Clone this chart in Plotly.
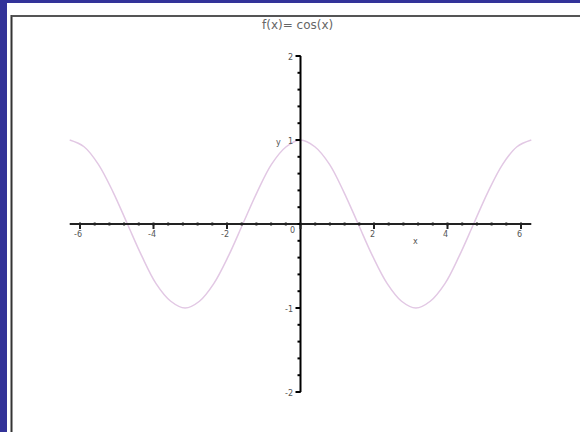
import plotly.graph_objects as go

# --- data ---
curve_x = [-6.28, -5.89, -5.50, -5.10, -4.71, -4.32, -3.93, -3.53, -3.14,
           -2.75, -2.36, -1.96, -1.57, -1.18, -0.79, -0.39, 0.0,
           0.39, 0.79, 1.18, 1.57, 1.96, 2.36, 2.75, 3.14,
           3.53, 3.93, 4.32, 4.71, 5.10, 5.50, 5.89, 6.28]
curve_y = [1.0, 0.92, 0.71, 0.38, 0.0, -0.38, -0.71, -0.92, -1.0,
           -0.92, -0.71, -0.38, 0.0, 0.38, 0.71, 0.92, 1.0,
           0.92, 0.71, 0.38, 0.0, -0.38, -0.71, -0.92, -1.0,
           -0.92, -0.71, -0.38, 0.0, 0.38, 0.71, 0.92, 1.0]
x_major = [-6, -4, -2, 0, 2, 4, 6]
x_labels = ["-6", "-4", "-2", "0", "2", "4", "6"]
y_major = [-2, -1, 1, 2]
y_labels = ["-2", "-1", "1", "2"]
x_minor_step = 0.4
y_minor_step = 0.2
title_text = "f(x)= cos(x)"

W, H = 580, 432
PX_X = 36.75   # pixels per x unit
PX_Y = 84.0    # pixels per y unit
X0_PX = 300.5
Y0_PX = 224.0
xr = [-X0_PX / PX_X, (W - X0_PX) / PX_X]
yr = [-(H - Y0_PX) / PX_Y, Y0_PX / PX_Y]

x_lo, x_hi = curve_x[0], curve_x[-1]
y_lo, y_hi = y_major[0], y_major[-1]

fig = go.Figure()
fig.add_trace(go.Scatter(x=curve_x, y=curve_y, mode="lines",
                         line=dict(color="rgb(226,200,228)", width=1.5, shape="spline"),
                         hoverinfo="skip", showlegend=False))

shapes = []
axcol = "#222222"
# axes lines
shapes.append(dict(type="line", xref="x", yref="y", x0=x_lo, x1=x_hi, y0=0, y1=0,
                   line=dict(color=axcol, width=2)))
shapes.append(dict(type="line", xref="x", yref="y", x0=0, x1=0, y0=y_lo, y1=y_hi,
                   line=dict(color="black", width=2)))
# x ticks
n_minor_x = int(round((x_major[-1] - x_major[0]) / x_minor_step))
for i in range(n_minor_x + 1):
    v = x_major[0] + i * x_minor_step
    shapes.append(dict(type="line", xref="x", yref="y", x0=v, x1=v,
                       y0=-1.5 / PX_Y, y1=1.5 / PX_Y, line=dict(color=axcol, width=2)))
for v in x_major:
    shapes.append(dict(type="line", xref="x", yref="y", x0=v, x1=v,
                       y0=-5 / PX_Y, y1=0, line=dict(color=axcol, width=2)))
# y ticks
n_minor_y = int(round((y_hi - y_lo) / y_minor_step))
for i in range(n_minor_y + 1):
    v = y_lo + i * y_minor_step
    shapes.append(dict(type="line", xref="x", yref="y", x0=-3 / PX_X, x1=0,
                       y0=v, y1=v, line=dict(color="black", width=2)))
for v in y_major:
    shapes.append(dict(type="line", xref="x", yref="y", x0=-5 / PX_X, x1=0,
                       y0=v, y1=v, line=dict(color="black", width=2)))

# window chrome: blue strips and frame
blue = "#333399"
shapes.append(dict(type="rect", xref="paper", yref="paper", x0=0, x1=7 / W, y0=0, y1=1,
                   fillcolor=blue, line=dict(width=0)))
shapes.append(dict(type="rect", xref="paper", yref="paper", x0=0, x1=1, y0=1 - 3 / H, y1=1,
                   fillcolor=blue, line=dict(width=0)))
shapes.append(dict(type="line", xref="paper", yref="paper", x0=11.5 / W, x1=11.5 / W,
                   y0=0, y1=1 - 15 / H, line=dict(color="#333333", width=2)))
shapes.append(dict(type="line", xref="paper", yref="paper", x0=11.5 / W, x1=1,
                   y0=1 - 16 / H, y1=1 - 16 / H, line=dict(color="#555555", width=2)))

annotations = []
lab_font = dict(family="DejaVu Sans", size=8, color="#555555")
for v, t in zip(x_major, x_labels):
    if v == 0:
        annotations.append(dict(x=v, y=0, xref="x", yref="y", text=t, showarrow=False,
                                xanchor="center", yanchor="middle", xshift=-8, yshift=-6,
                                font=lab_font))
    else:
        annotations.append(dict(x=v, y=0, xref="x", yref="y", text=t, showarrow=False,
                                xanchor="center", yanchor="middle", xshift=-2, yshift=-10,
                                font=lab_font))
for v, t in zip(y_major, y_labels):
    annotations.append(dict(x=0, y=v, xref="x", yref="y", text=t, showarrow=False,
                            xanchor="right", yanchor="middle", xshift=-6, yshift=-1,
                            font=lab_font))
annotations.append(dict(x=(415 - X0_PX) / PX_X, y=0, xref="x", yref="y", text="x",
                        showarrow=False, xanchor="center", yanchor="middle", yshift=-17,
                        font=lab_font))
annotations.append(dict(x=0, y=1, xref="x", yref="y", text="y", showarrow=False,
                        xanchor="center", yanchor="middle", xshift=-22, yshift=-2,
                        font=lab_font))
annotations.append(dict(x=297 / W, y=1 - 25 / H, xref="paper", yref="paper", text=title_text,
                        showarrow=False, xanchor="center", yanchor="middle",
                        font=dict(family="DejaVu Sans", size=12, color="#666666")))

fig.update_layout(
    width=W, height=H, autosize=False,
    margin=dict(l=0, r=0, t=0, b=0),
    paper_bgcolor="white", plot_bgcolor="white",
    xaxis=dict(range=xr, visible=False, fixedrange=True),
    yaxis=dict(range=yr, visible=False, fixedrange=True),
    shapes=shapes, annotations=annotations, showlegend=False,
)
fig.write_html("out.html", config={"displayModeBar": False},
               post_script="document.body.style.margin='0';document.body.style.overflow='hidden';")
